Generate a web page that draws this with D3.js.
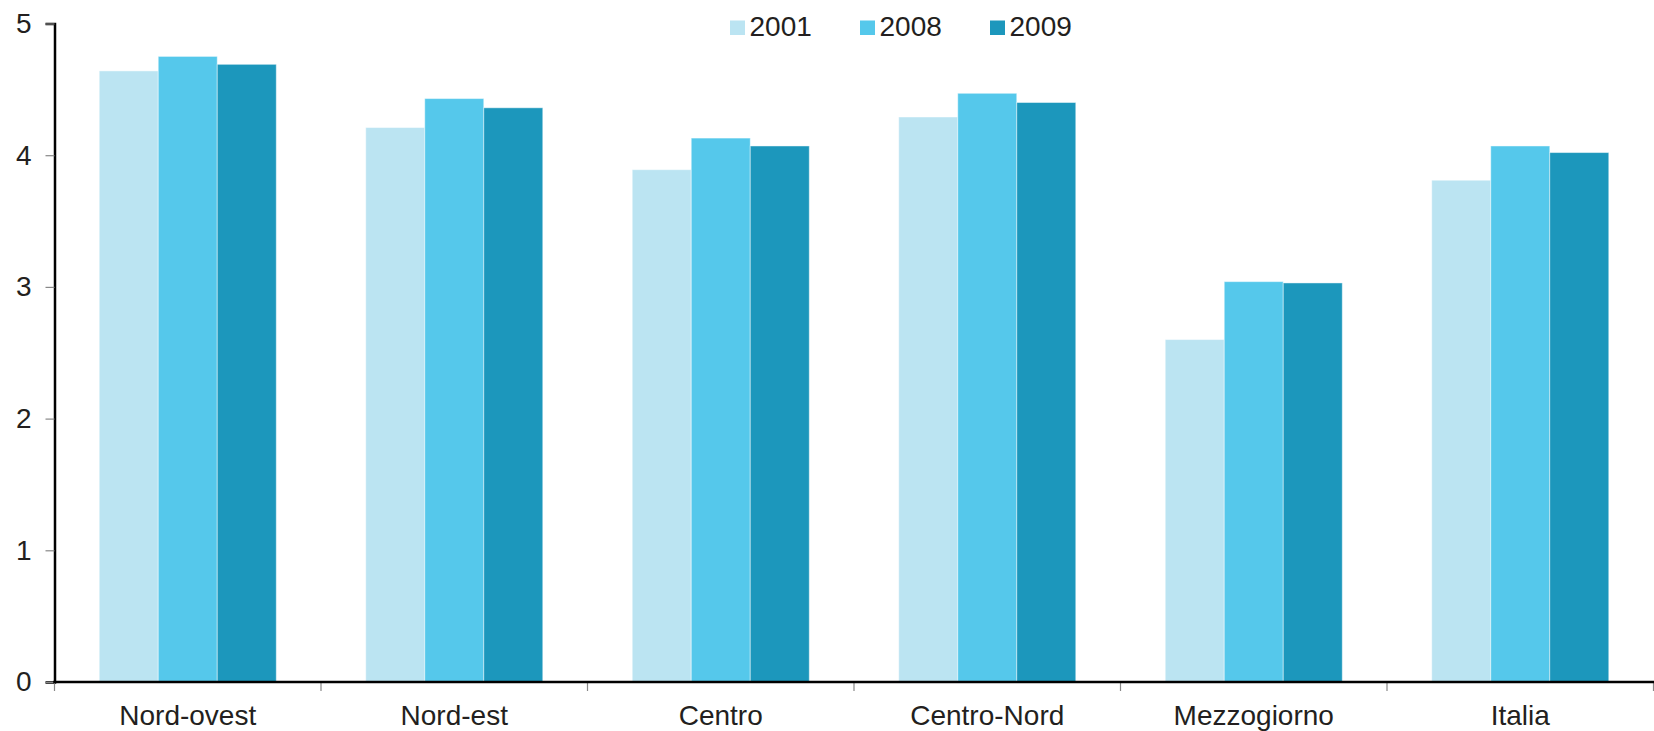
<!DOCTYPE html>
<html>
<head>
<meta charset="utf-8">
<script src="https://cdn.jsdelivr.net/npm/d3@7"></script>
<style>
  html, body { margin: 0; padding: 0; background: #fff; }
  svg { display: block; font-family: "Liberation Sans", Arial, sans-serif; }
</style>
</head>
<body>
<svg id="chart" width="1654" height="731"></svg>
<script>
const categories = ["Nord-ovest", "Nord-est", "Centro", "Centro-Nord", "Mezzogiorno", "Italia"];
const seriesNames = ["2001", "2008", "2009"];
const values2001 = [4.64, 4.21, 3.89, 4.29, 2.60, 3.81];
const values2008 = [4.75, 4.43, 4.13, 4.47, 3.04, 4.07];
const values2009 = [4.69, 4.36, 4.07, 4.40, 3.03, 4.02];
const yTicks = [0, 1, 2, 3, 4, 5];
const colors = ["#bbe4f2", "#55c8eb", "#1c97bc"];

const seriesValues = [values2001, values2008, values2009];
const svg = d3.select("#chart");
const textColor = "#231f20";

const x0 = d3.scaleBand().domain(categories).range([54.5, 1653.5]).padding(0);
const x1 = d3.scaleBand().domain(seriesNames).range([0, x0.bandwidth()]).paddingInner(0).paddingOuter(0.758);
const y = d3.scaleLinear().domain([0, 5]).range([682, 23.5]);
const color = d3.scaleOrdinal().domain(seriesNames).range(colors);

// bars
const groups = svg.append("g").selectAll("g")
  .data(categories)
  .join("g")
  .attr("transform", c => `translate(${x0(c)},0)`);

groups.selectAll("rect")
  .data((c, i) => seriesNames.map((s, j) => ({ s, v: seriesValues[j][i] })))
  .join("rect")
  .attr("x", d => x1(d.s))
  .attr("width", x1.bandwidth())
  .attr("y", d => y(d.v))
  .attr("height", d => y(0) - y(d.v))
  .attr("fill", d => color(d.s))
  .attr("stroke", "rgba(255,255,255,0.45)")
  .attr("stroke-width", 1);

// y axis
const yAxis = svg.append("g")
  .attr("transform", "translate(54.5,0)")
  .call(d3.axisLeft(y).tickValues(yTicks).tickFormat(d3.format("d")).tickSize(9).tickPadding(14));
yAxis.select(".domain").attr("stroke", "#000").attr("stroke-width", 2.5);
yAxis.selectAll(".tick line").attr("stroke", "#888").attr("stroke-width", 1.2);
yAxis.selectAll(".tick text")
  .attr("font-size", 28)
  .attr("fill", textColor)
  .attr("font-family", "'Liberation Sans', Arial, sans-serif");

// x axis line + boundary ticks
const boundaries = categories.map(c => x0(c)).concat([x0.range()[1]]);
const xAxis = svg.append("g");
xAxis.selectAll("line.tick")
  .data(boundaries)
  .join("line")
  .attr("class", "tick")
  .attr("x1", d => d).attr("x2", d => d)
  .attr("y1", y(0)).attr("y2", y(0) + 9)
  .attr("stroke", "#888").attr("stroke-width", 1.2);
xAxis.append("line")
  .attr("x1", x0.range()[0] - 1.25).attr("x2", 1654)
  .attr("y1", y(0)).attr("y2", y(0))
  .attr("stroke", "#000").attr("stroke-width", 2.5);

xAxis.selectAll("text")
  .data(categories)
  .join("text")
  .attr("x", c => x0(c) + x0.bandwidth() / 2)
  .attr("y", 725)
  .attr("text-anchor", "middle")
  .attr("font-size", 28)
  .attr("fill", textColor)
  .text(c => c);

// legend
const legendX = d3.scaleOrdinal().domain(seriesNames).range([730, 860, 990]);
const legend = svg.append("g").selectAll("g")
  .data(seriesNames)
  .join("g")
  .attr("transform", s => `translate(${legendX(s)},0)`);
legend.append("rect")
  .attr("x", 0).attr("y", 20.5)
  .attr("width", 15).attr("height", 14.5)
  .attr("fill", s => color(s));
legend.append("text")
  .attr("x", 19.5).attr("y", 36)
  .attr("font-size", 28)
  .attr("fill", textColor)
  .text(s => s);
</script>
</body>
</html>
